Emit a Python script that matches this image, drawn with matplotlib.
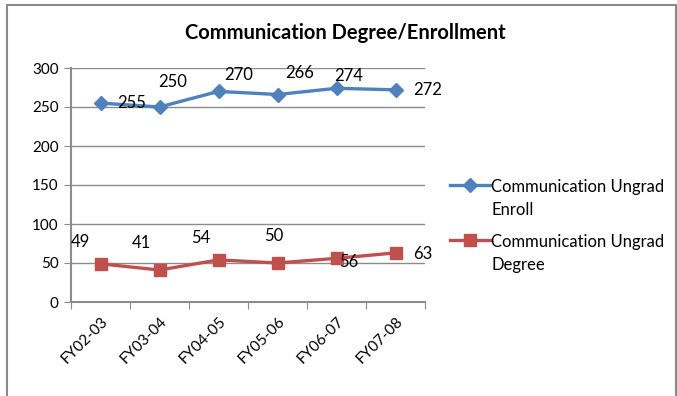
import numpy as np
import matplotlib
matplotlib.use("Agg")
import matplotlib.pyplot as plt
from matplotlib.patches import Rectangle
from matplotlib.legend_handler import HandlerLine2D

plt.rcParams['font.family'] = ['Lato', 'DejaVu Sans']

years = ["FY02-03", "FY03-04", "FY04-05", "FY05-06", "FY06-07", "FY07-08"]
enroll = [255, 250, 270, 266, 274, 272]
degree = [49, 41, 54, 50, 56, 63]

# label offsets in pixels (dx, dy), roughly where Excel dropped them
enroll_off = [(31, 0), (13, 25), (20, 16), (22, 22), (12, 12), (32, 0)]
degree_off = [(-20, 22), (-18, 27), (-18, 22), (-4, 27), (12, -4), (27, -1)]

blue = "#4F81BD"
red = "#C0504D"
grid_c = "#8C8C8C"


class FirstLineHandler(HandlerLine2D):
    # keep the legend line level with the first text row
    def create_artists(self, legend, orig_handle, xdescent, ydescent,
                       width, height, fontsize, trans):
        shift = 0.85 * fontsize
        return super().create_artists(legend, orig_handle, xdescent,
                                      ydescent - 2 * shift, width, height,
                                      fontsize, trans)


fig = plt.figure(figsize=(6.77, 3.96), dpi=100)
ax = fig.add_axes([71 / 677, 1 - 302 / 396, 354 / 677, 234 / 396])

x = np.arange(len(years))
l1, = ax.plot(x, enroll, color=blue, lw=2.4, marker="D", ms=7.5,
              label="Communication Ungrad\nEnroll", zorder=3)
l2, = ax.plot(x, degree, color=red, lw=2.4, marker="s", ms=8,
              label="Communication Ungrad\nDegree", zorder=3)

for xi, v, (dx, dy) in zip(x, enroll, enroll_off):
    ax.annotate(str(v), (xi, v), xytext=(dx, dy), textcoords="offset pixels",
                ha="center", va="center", fontsize=12)
for xi, v, (dx, dy) in zip(x, degree, degree_off):
    ax.annotate(str(v), (xi, v), xytext=(dx, dy), textcoords="offset pixels",
                ha="center", va="center", fontsize=12)

ax.set_xlim(-0.5, len(years) - 0.5)
ax.set_ylim(0, 300)
ax.set_yticks(np.arange(0, 301, 50))
ax.yaxis.grid(True, color=grid_c, lw=1)
ax.set_axisbelow(True)

ax.set_xticks(np.arange(-0.5, len(years)))
ax.set_xticklabels([])
ax.set_xticks(x, minor=True)
ax.set_xticklabels(years, minor=True, rotation=45, ha="right",
                   rotation_mode="anchor", fontsize=11)
ax.tick_params(axis="x", which="major", length=5, color=grid_c)
ax.tick_params(axis="x", which="minor", length=0, pad=9)
ax.tick_params(axis="y", length=5, color=grid_c, labelsize=11, pad=4)

for s in ["top", "right"]:
    ax.spines[s].set_visible(False)
for s in ["left", "bottom"]:
    ax.spines[s].set_color(grid_c)
    ax.spines[s].set_linewidth(1.5)

fig.text(0.51, 1 - 33 / 396, "Communication Degree/Enrollment",
         ha="center", va="center", fontsize=14.5, fontweight="bold")

leg = fig.legend(handles=[l1, l2], loc="upper left",
                 bbox_to_anchor=(443 / 677, 1 - 172 / 396), frameon=False,
                 fontsize=12, handlelength=2.4, handletextpad=0.1,
                 labelspacing=0.97, borderaxespad=0,
                 handler_map={matplotlib.lines.Line2D: FirstLineHandler()})
for t in leg.get_texts():
    t.set_linespacing(1.55)

fig.add_artist(Rectangle((6.5 / 677, -0.1), 669 / 677, 1.1 - 5.5 / 396,
                         transform=fig.transFigure, fill=False,
                         edgecolor="#8A8A8A", lw=1.5))

fig.savefig("out.png", dpi=100)
